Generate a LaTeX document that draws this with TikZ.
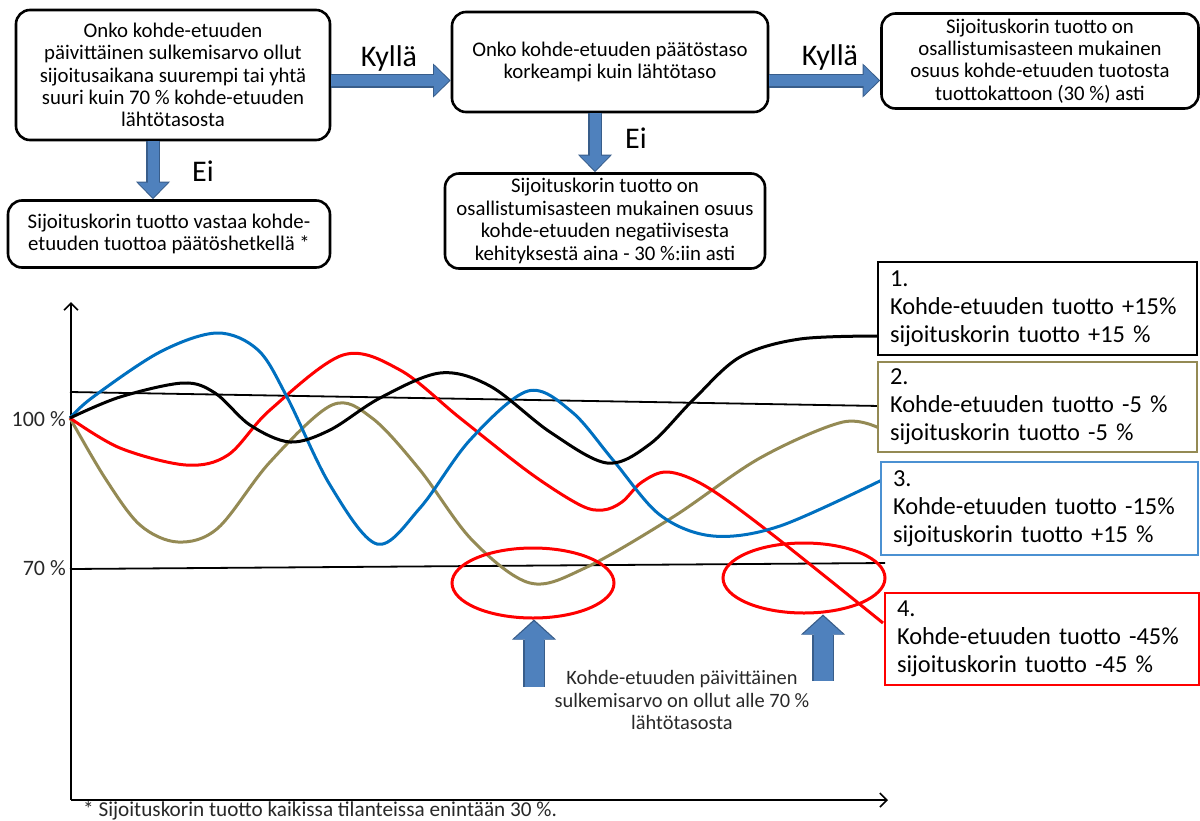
\documentclass[tikz,border=0pt]{standalone}
\usepackage{fontspec}
\setmainfont{Carlito}
\usetikzlibrary{arrows.meta,shapes.geometric}
\definecolor{blueline}{RGB}{0,112,192}
\definecolor{redline}{RGB}{255,0,0}
\definecolor{oliveline}{RGB}{148,138,84}
\definecolor{legblue}{RGB}{75,145,210}
\definecolor{arrfill}{RGB}{79,129,189}
\definecolor{arrbord}{RGB}{56,93,138}
\definecolor{txtgray}{RGB}{40,40,40}
\newcommand{\fsz}[2]{\fontsize{#1}{#2}\selectfont}
\tikzset{
  flowbox/.style={draw, line width=2.6pt, rounded corners=14pt, align=center, fill=white,
    font=\fsz{20.8}{22.4}, inner sep=2pt},
  legbox/.style={draw, line width=1.4pt, fill=white, align=left, font=\fsz{24.4}{28},
    inner xsep=11pt, inner ysep=2pt},
  blockarrow/.style={line width=11pt, draw=arrfill,
    -{Triangle[width=30pt,length=15pt,line width=0pt]}, shorten >=1.6pt,
    preaction={draw=arrbord, line width=14pt, shorten >=0pt,
      -{Triangle[width=34pt,length=17.5pt,line width=0pt]}}},
  uparrow/.style={line width=19pt, draw=arrfill,
    -{Triangle[width=40pt,length=18pt,line width=0pt]}, shorten >=1.8pt,
    preaction={draw=arrbord, line width=22pt, shorten >=0pt,
      -{Triangle[width=44pt,length=20pt,line width=0pt]}}},
  curve/.style={line width=3pt, smooth, tension=0.55},
  lvl/.style={line width=1.8pt},
  axis/.style={line width=2.4pt, -{Straight Barb[length=7pt,width=14pt,line width=1.6pt]}},
  ring/.style={ellipse, draw=redline, line width=3pt, minimum width=162pt, minimum height=70pt, inner sep=0pt},
  lbl/.style={font=\fsz{30}{32}},
  pct/.style={font=\fsz{22}{24}, anchor=east, inner sep=0pt, text=txtgray},
}
\begin{document}
\begin{tikzpicture}[x=1pt,y=-1pt]
\useasboundingbox (0,0) rectangle (1200,820);

% ---------- flow chart ----------
\node[flowbox, minimum width=314pt, minimum height=130pt] (A) at (173,75)
  {Onko kohde-etuuden\\päivittäinen sulkemisarvo ollut\\sijoitusaikana suurempi tai yhtä\\suuri kuin 70 \% kohde-etuuden\\lähtötasosta};
\node[flowbox, minimum width=322pt, minimum height=67pt] (B) at (169,234)
  {Sijoituskorin tuotto vastaa kohde-\\etuuden tuottoa päätöshetkellä *};
\node[flowbox, minimum width=316pt, minimum height=100pt] (C) at (610,62)
  {Onko kohde-etuuden päätöstaso\\korkeampi kuin lähtötaso};
\node[flowbox, minimum width=320pt, minimum height=95pt] (D) at (605,221)
  {Sijoituskorin tuotto on\\osallistumisasteen mukainen osuus\\kohde-etuuden negatiivisesta\\kehityksestä aina - 30 \%:iin asti};
\node[flowbox, minimum width=317pt, minimum height=95pt] (E) at (1040,61)
  {Sijoituskorin tuotto on\\osallistumisasteen mukainen\\osuus kohde-etuuden tuotosta\\tuottokattoon (30 \%) asti};

\coordinate (hy) at (0,80.5);
\coordinate (vx1) at (153,0);
\coordinate (vx2) at (595,0);
\draw[blockarrow] (A.east |- hy) -- (C.west |- hy);
\draw[blockarrow] (C.east |- hy) -- (E.west |- hy);
\draw[blockarrow] (A.south -| vx1) -- (B.north -| vx1);
\draw[blockarrow] (C.south -| vx2) -- (D.north -| vx2);
\node[lbl] (k1) at (389,58) {Kyllä};
\node[lbl] (k2) at (830,57) {Kyllä};
\node[lbl] (e1) at (203,171) {Ei};
\node[lbl] (e2) at (636,138) {Ei};

% ---------- chart ----------
\coordinate (O) at (71,800);
\coordinate (Ytop) at (71,302);
\coordinate (Xend) at (888,800);
\draw[axis] (O) -- (Ytop);
\draw[axis] (O) -- (Xend);

\coordinate (L100a) at (70,392);
\coordinate (L100b) at (880,406);
\coordinate (L70a) at (70,569);
\coordinate (L70b) at (885,563);
\draw[lvl] (L100a) -- (L100b);
\draw[lvl] (L70a) -- (L70b);

\node[pct] (p100) at (66,419) {100 \%};
\node[pct] (p70) at (66,568) {70 \%};

% curves
\draw[curve, draw=oliveline] plot coordinates {(70,418) (105,478) (140,525) (178,542) (218,528) (270,462) (332,405) (372,418) (420,470) (472,540) (530,583) (585,568) (673,517) (760,458) (843,422) (883,430)};
\draw[curve, draw=redline] plot coordinates {(70,418) (120,448) (186,465) (228,455) (270,410) (343,355) (400,370) (460,418) (530,473) (580,505) (603,510) (622,502) (642,482) (668,472) (707,487) (773,535) (883,623)};
\draw[curve, draw=blueline] plot coordinates {(70,418) (93,397) (160,352) (217,333) (258,350) (287,397) (330,485) (377,544) (420,508) (470,440) (528,391) (572,412) (613,460) (660,515) (713,536) (780,526) (884,479)};
\draw[curve, draw=black] plot coordinates {(70,418) (120,397) (183,383) (215,393) (250,425) (290,442) (330,430) (380,398) (440,373) (490,386) (550,432) (607,463) (650,444) (693,400) (740,357) (800,339) (883,336)};

% rings and arrows
\node[ring] (r1) at (533,583) {};
\node[ring] (r2) at (804,578) {};
\coordinate (ua1) at (534,687);
\coordinate (ua2) at (823,681);
\draw[uparrow] (ua1) -- (r1.south -| ua1);
\draw[uparrow] (ua2) -- (r2.south -| ua2);
\node[font=\fsz{20.4}{22.5}, align=center, text=txtgray] (note) at (682,700)
  {Kohde-etuuden päivittäinen\\sulkemisarvo on ollut alle 70 \%\\lähtötasosta};

% legend
\node[legbox, draw=black, minimum width=319pt, minimum height=93pt, text width=295pt] (leg1) at (1037.5,308.5)
  {1.\\Kohde-etuuden tuotto +15\%\\sijoituskorin tuotto +15 \%};
\node[legbox, draw=oliveline, minimum width=319pt, minimum height=90pt, text width=295pt] (leg2) at (1037.5,407)
  {2.\\Kohde-etuuden tuotto -5 \%\\sijoituskorin tuotto -5 \%};
\node[legbox, draw=legblue, minimum width=317pt, minimum height=93pt, text width=293pt] (leg3) at (1039.5,508.5)
  {3.\\Kohde-etuuden tuotto -15\%\\sijoituskorin tuotto +15 \%};
\node[legbox, draw=redline, minimum width=314pt, minimum height=92pt, text width=290pt] (leg4) at (1042,639)
  {4.\\Kohde-etuuden tuotto -45\%\\sijoituskorin tuotto -45 \%};

% footnote
\node[font=\fsz{21.2}{23}, anchor=west, inner sep=0pt, text=txtgray] (foot) at (83,811)
  {* Sijoituskorin tuotto kaikissa tilanteissa enintään 30 \%.};
\end{tikzpicture}
\end{document}
